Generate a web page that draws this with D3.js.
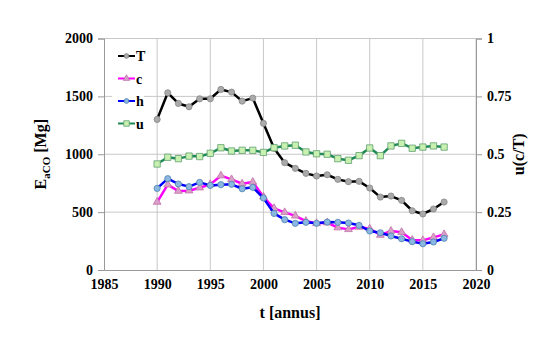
<!DOCTYPE html>
<html>
<head>
<meta charset="utf-8">
<script src="https://cdn.jsdelivr.net/npm/d3@7"></script>
<style>
  body { margin: 0; background: #fff; }
  svg text { font-family: "Liberation Serif", "Times New Roman", Times, serif !important; font-weight: bold; }
</style>
</head>
<body>
<div id="chart"></div>
<script>
// data
const years = d3.range(1990, 2018);
const T = [1301, 1531, 1439, 1410, 1479, 1479, 1560, 1537, 1459, 1485,
           1267, 1051, 927, 878, 835, 812, 823, 783, 763, 766,
           708, 630, 639, 602, 512, 484, 527, 587];
const c = [587, 737, 682, 685, 711, 740, 815, 783, 745, 760,
           633, 533, 498, 468, 423, 403, 409, 366, 351, 371,
           357, 302, 337, 326, 259, 256, 282, 308];
const h = [705, 789, 743, 720, 757, 731, 737, 740, 702, 714,
           622, 489, 435, 403, 412, 403, 414, 412, 406, 386,
           337, 322, 294, 270, 245, 227, 242, 274];
const u = [0.458, 0.487, 0.481, 0.492, 0.490, 0.504, 0.528, 0.514, 0.517, 0.517,
           0.508, 0.528, 0.536, 0.539, 0.510, 0.502, 0.500, 0.481, 0.474, 0.494,
           0.527, 0.494, 0.536, 0.547, 0.526, 0.531, 0.536, 0.531];
const xTicks = [1985, 1990, 1995, 2000, 2005, 2010, 2015, 2020];
const yTicks = [0, 500, 1000, 1500, 2000];
const y2Ticks = [0, 0.25, 0.5, 0.75, 1];

const width = 550, height = 341;
const svg = d3.select("#chart").append("svg")
    .attr("width", width)
    .attr("height", height);

// plot area
const x = d3.scaleLinear().domain([1985, 2020]).range([104, 476]);
const y = d3.scaleLinear().domain([0, 2000]).range([270, 38.5]);
const y2 = d3.scaleLinear().domain([0, 1]).range([270, 38.5]);

// grid
svg.append("g").selectAll("line")
    .data(xTicks.slice(1))
    .enter().append("line")
    .attr("x1", d => x(d)).attr("x2", d => x(d))
    .attr("y1", y(0)).attr("y2", y(2000))
    .attr("stroke", "#c8c8c8").attr("stroke-width", 1);
svg.append("g").selectAll("line")
    .data(yTicks.slice(1))
    .enter().append("line")
    .attr("x1", x(1985)).attr("x2", x(2020))
    .attr("y1", d => y(d)).attr("y2", d => y(d))
    .attr("stroke", "#c8c8c8").attr("stroke-width", 1);

// axes
const axisStyle = g => {
    g.attr("font-family", null);
    g.select(".domain").attr("stroke", "#999");
    g.selectAll(".tick line").attr("stroke", "#999");
    g.selectAll(".tick text").attr("font-size", "14px").attr("fill", "#000");
};
svg.append("g")
    .attr("transform", `translate(0,${y(0)})`)
    .call(d3.axisBottom(x).tickValues(xTicks).tickFormat(d3.format("d")).tickSize(0).tickPadding(9))
    .call(axisStyle);
svg.append("g")
    .attr("transform", `translate(${x(1985)},0)`)
    .call(d3.axisLeft(y).tickValues(yTicks).tickSize(6).tickPadding(5).tickFormat(d3.format("d")))
    .call(axisStyle);
svg.append("g")
    .attr("transform", `translate(${x(2020)},0)`)
    .call(d3.axisRight(y2).tickValues(y2Ticks).tickSize(6).tickPadding(5).tickFormat(d => d))
    .call(axisStyle);

// axis titles
const ylab = svg.append("text")
    .attr("transform", `translate(46,${y(1000)}) rotate(-90)`)
    .attr("text-anchor", "middle")
    .attr("font-size", "16px");
ylab.append("tspan").text("E");
ylab.append("tspan").attr("font-size", "11px").attr("dy", 4).text("aCO");
ylab.append("tspan").attr("dy", -4).text(" [Mg]");

svg.append("text")
    .attr("transform", `translate(524,${y2(0.5)}) rotate(-90)`)
    .attr("text-anchor", "middle")
    .attr("font-size", "16px")
    .text("u(c/T)");

svg.append("text")
    .attr("x", x(2002.5)).attr("y", 318)
    .attr("text-anchor", "middle")
    .attr("font-size", "16px")
    .text("t [annus]");

// series
const series = [
    {name: "T", vals: T, scale: y, color: "#000", marker: "circle", fill: "#aaa", stroke: "#888"},
    {name: "c", vals: c, scale: y, color: "#ff00ff", marker: "triangle", fill: "#d9a0c8", stroke: "#c070a8"},
    {name: "h", vals: h, scale: y, color: "#0000ff", marker: "circle", fill: "#8ab8e0", stroke: "#5080b0"},
    {name: "u", vals: u, scale: y2, color: "#1f8a55", marker: "square", fill: "#c8f0b0", stroke: "#60a070"}
];

const sym = {
    circle: d3.symbol().type(d3.symbolCircle).size(30),
    triangle: d3.symbol().type(d3.symbolTriangle).size(26),
    square: d3.symbol().type(d3.symbolSquare).size(40)
};

series.forEach(s => {
    const line = d3.line()
        .x((d, i) => x(years[i]))
        .y(d => s.scale(d));
    svg.append("path")
        .datum(s.vals)
        .attr("fill", "none")
        .attr("stroke", s.color)
        .attr("stroke-width", 2.5)
        .attr("stroke-linejoin", "round")
        .attr("d", line);
    svg.append("g").selectAll("path")
        .data(s.vals)
        .enter().append("path")
        .attr("d", sym[s.marker])
        .attr("transform", (d, i) => `translate(${x(years[i])},${s.scale(d)})`)
        .attr("fill", s.fill)
        .attr("stroke", s.stroke)
        .attr("stroke-width", 0.8);
});

// legend
const legend = svg.append("g").attr("transform", "translate(112,45)");
legend.append("rect")
    .attr("width", 32).attr("height", 88)
    .attr("fill", "#fff");
const item = legend.selectAll(".item")
    .data(series)
    .enter().append("g")
    .attr("class", "item")
    .attr("transform", (d, i) => `translate(0,${11 + i * 22.5})`);
item.append("line")
    .attr("x1", 6).attr("x2", 23)
    .attr("stroke", d => d.color)
    .attr("stroke-width", 2);
item.append("path")
    .attr("d", d => sym[d.marker].size(d.marker === "square" ? 30 : 18)())
    .attr("transform", "translate(14.5,0)")
    .attr("fill", d => d.fill)
    .attr("stroke", d => d.stroke)
    .attr("stroke-width", 0.8);
item.append("text")
    .attr("x", 24).attr("y", 5)
    .attr("font-size", "14px")
    .text(d => d.name);
</script>
</body>
</html>
